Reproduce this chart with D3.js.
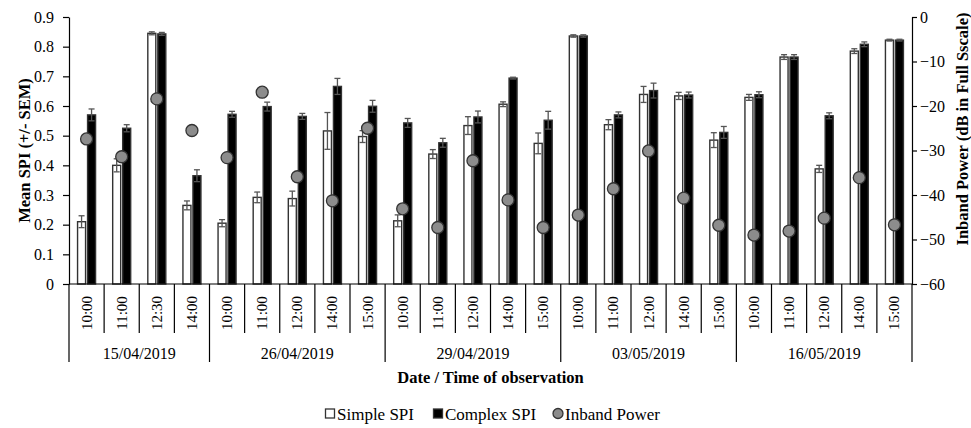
<!DOCTYPE html>
<html>
<head>
<meta charset="utf-8">
<script src="https://cdn.jsdelivr.net/npm/d3@7"></script>
<style>
  body { margin: 0; background: #fff; }
  .axis path, .axis line { stroke: #000; stroke-width: 1.2; }
</style>
</head>
<body>
<div id="graph"></div>
<script>
// Dates and observation times (one category per time)
const dates = ["15/04/2019", "26/04/2019", "29/04/2019", "03/05/2019", "16/05/2019"];
const times = [
    ["10:00", "11:00", "12:30", "14:00"],
    ["10:00", "11:00", "12:00", "14:00", "15:00"],
    ["10:00", "11:00", "12:00", "14:00", "15:00"],
    ["10:00", "11:00", "12:00", "14:00", "15:00"],
    ["10:00", "11:00", "12:00", "14:00", "15:00"]
];

// Mean SPI values and SEM
const simpleSPI = [0.21, 0.40, 0.845, 0.265, 0.205, 0.292, 0.288, 0.516, 0.497, 0.213, 0.438, 0.534, 0.606, 0.474,
    0.836, 0.537, 0.639, 0.634, 0.485, 0.629, 0.765, 0.388, 0.785, 0.822];
const simpleSEM = [0.02, 0.022, 0.005, 0.015, 0.012, 0.018, 0.025, 0.062, 0.02, 0.02, 0.015, 0.03, 0.008, 0.035,
    0.004, 0.017, 0.027, 0.012, 0.025, 0.01, 0.008, 0.012, 0.008, 0.003];
const complexSPI = [0.57, 0.525, 0.843, 0.365, 0.572, 0.598, 0.565, 0.666, 0.599, 0.543, 0.476, 0.563, 0.694, 0.552,
    0.836, 0.570, 0.652, 0.637, 0.511, 0.638, 0.765, 0.567, 0.808, 0.822];
const complexSEM = [0.02, 0.012, 0.005, 0.02, 0.01, 0.015, 0.01, 0.027, 0.02, 0.015, 0.015, 0.02, 0.003, 0.03,
    0.004, 0.01, 0.025, 0.01, 0.02, 0.01, 0.008, 0.01, 0.008, 0.003];

// Inband power (dBFS), right axis
const inbandPower = [-27.4, -31.4, -18.4, -25.5, -31.6, -16.9, -35.9, -41.3, -25.0, -43.1, -47.3, -32.3, -41.1, -47.3,
    -44.5, -38.6, -30.1, -40.7, -46.8, -49.0, -48.1, -45.2, -36.1, -46.7];

const leftTicks = [0, 0.1, 0.2, 0.3, 0.4, 0.5, 0.6, 0.7, 0.8, 0.9];
const rightTicks = [0, -10, -20, -30, -40, -50, -60];

const width = 971, height = 428;
const margin = { left: 69, right: 59, top: 17, bottom: 144 };
const FONT = "'Liberation Serif', 'Times New Roman', serif";

// Flatten the categories, keeping track of the date groups
const cats = [];
times.forEach((list, g) => list.forEach(t => cats.push({ date: dates[g], group: g, time: t })));
cats.forEach((c, i) => {
    c.id = i;
    c.simple = simpleSPI[i];
    c.simpleErr = simpleSEM[i];
    c.complex = complexSPI[i];
    c.complexErr = complexSEM[i];
    c.power = inbandPower[i];
});

const svg = d3.select("#graph").append("svg")
    .attr("width", width)
    .attr("height", height);

const x = d3.scaleBand()
    .domain(cats.map(c => c.id))
    .range([margin.left, width - margin.right])
    .padding(0);

const bw = x.bandwidth();
const inner = d3.scaleBand()
    .domain(["simple", "complex"])
    .range([bw / 2 - 9, bw / 2 + 9])
    .paddingInner(0.2);

const y = d3.scaleLinear().domain([0, 0.9]).range([height - margin.bottom, margin.top]);
const y2 = d3.scaleLinear().domain([-60, 0]).range([height - margin.bottom, margin.top]);

const y0 = y(0);

// Bars
const series = [
    { key: "simple", err: "simpleErr", fill: "#fff" },
    { key: "complex", err: "complexErr", fill: "#000" }
];

const barG = svg.append("g");
series.forEach(s => {
    barG.selectAll("rect." + s.key)
        .data(cats)
        .join("rect")
        .attr("class", s.key)
        .attr("x", d => x(d.id) + inner(s.key))
        .attr("y", d => y(d[s.key]))
        .attr("width", inner.bandwidth())
        .attr("height", d => y0 - y(d[s.key]))
        .attr("fill", s.fill)
        .attr("stroke", "#333")
        .attr("stroke-width", 1.4);
});

// Error bars (drawn both ways from the bar top)
const errG = svg.append("g").attr("stroke", "#555").attr("stroke-width", 1.3);
series.forEach(s => {
    const eb = errG.selectAll("g." + s.key)
        .data(cats)
        .join("g")
        .attr("class", s.key)
        .attr("transform", d => `translate(${x(d.id) + inner(s.key) + inner.bandwidth() / 2},0)`);
    eb.append("line")
        .attr("y1", d => y(d[s.key] + d[s.err]))
        .attr("y2", d => y(d[s.key] - d[s.err]));
    eb.append("line")
        .attr("x1", -3).attr("x2", 3)
        .attr("y1", d => y(d[s.key] + d[s.err]))
        .attr("y2", d => y(d[s.key] + d[s.err]));
    eb.append("line")
        .attr("x1", -3).attr("x2", 3)
        .attr("y1", d => y(d[s.key] - d[s.err]))
        .attr("y2", d => y(d[s.key] - d[s.err]));
});

// Inband power markers
svg.append("g").selectAll("circle")
    .data(cats)
    .join("circle")
    .attr("cx", d => x(d.id) + bw / 2)
    .attr("cy", d => y2(d.power))
    .attr("r", 6)
    .attr("fill", "#8c8c8c")
    .attr("stroke", "#333")
    .attr("stroke-width", 1.3);

// Left axis
svg.append("g")
    .attr("class", "axis")
    .attr("transform", `translate(${margin.left},0)`)
    .call(d3.axisLeft(y).tickValues(leftTicks).tickFormat(d => d === 0 ? "0" : d3.format(".1f")(d))
        .tickSize(6).tickPadding(9).tickSizeOuter(0));

// Right axis
svg.append("g")
    .attr("class", "axis")
    .attr("transform", `translate(${width - margin.right},0)`)
    .call(d3.axisRight(y2).tickValues(rightTicks).tickFormat(d3.format("d"))
        .tickSize(5).tickPadding(3).tickSizeOuter(0));

svg.selectAll(".axis text").attr("font-size", 16);

// Bottom axis: baseline, category separators, time and date labels
const bottom = svg.append("g").attr("stroke", "#000").attr("stroke-width", 1.2);
bottom.append("line")
    .attr("x1", margin.left).attr("x2", width - margin.right)
    .attr("y1", y0).attr("y2", y0);

const groupStarts = new Set([0]);
cats.forEach((c, i) => { if (i > 0 && c.group !== cats[i - 1].group) groupStarts.add(i); });

const edges = d3.range(cats.length + 1);
bottom.selectAll("line.sep")
    .data(edges)
    .join("line")
    .attr("class", "sep")
    .attr("x1", i => i < cats.length ? x(i) : x.range()[1])
    .attr("x2", i => i < cats.length ? x(i) : x.range()[1])
    .attr("y1", y0)
    .attr("y2", i => (groupStarts.has(i) || i === cats.length) ? y0 + 78 : y0 + 49);

svg.append("g").selectAll("text")
    .data(cats)
    .join("text")
    .attr("transform", d => `translate(${x(d.id) + bw / 2 + 5},${y0 + 29}) rotate(-90)`)
    .attr("text-anchor", "middle")
    .attr("font-size", 15)
    .text(d => d.time);

const groups = d3.groups(cats, d => d.group);
svg.append("g").selectAll("text")
    .data(groups)
    .join("text")
    .attr("x", g => (x(g[1][0].id) + x(g[1][g[1].length - 1].id) + bw) / 2)
    .attr("y", y0 + 75)
    .attr("text-anchor", "middle")
    .attr("font-size", 16)
    .text(g => dates[g[0]]);

// Axis titles
const titles = svg.append("g").attr("font-size", 16.5).attr("font-weight", "bold");
titles.append("text")
    .attr("text-anchor", "middle")
    .attr("x", (margin.left + width - margin.right) / 2)
    .attr("y", y0 + 99)
    .text("Date / Time of observation");

titles.append("text")
    .attr("text-anchor", "middle")
    .attr("transform", `translate(30,${(margin.top + y0) / 2}) rotate(-90)`)
    .text("Mean SPI (+/- SEM)");

titles.append("text")
    .attr("text-anchor", "middle")
    .attr("transform", `translate(968,129) rotate(-90)`)
    .text("Inband Power (dB in Full Sscale)");

// Legend
const legendItems = [
    { label: "Simple SPI", shape: "rect", fill: "#fff", x: 325 },
    { label: "Complex SPI", shape: "rect", fill: "#000", x: 433 },
    { label: "Inband Power", shape: "circle", fill: "#8c8c8c", x: 553 }
];
const legend = svg.append("g").attr("transform", "translate(0,414)");
legendItems.forEach(it => {
    const g = legend.append("g").attr("transform", `translate(${it.x},0)`);
    if (it.shape === "rect") {
        g.append("rect").attr("x", 0.5).attr("y", -5).attr("width", 9).attr("height", 9)
            .attr("fill", it.fill).attr("stroke", "#333").attr("stroke-width", 1.3);
    } else {
        g.append("circle").attr("cx", 5).attr("cy", -0.5).attr("r", 5)
            .attr("fill", it.fill).attr("stroke", "#333").attr("stroke-width", 1.3);
    }
    g.append("text").attr("x", 12).attr("y", 6).attr("font-size", 17).text(it.label);
});

// Times-like font everywhere
svg.selectAll("text").style("font-family", FONT).attr("fill", "#000");
</script>
</body>
</html>
